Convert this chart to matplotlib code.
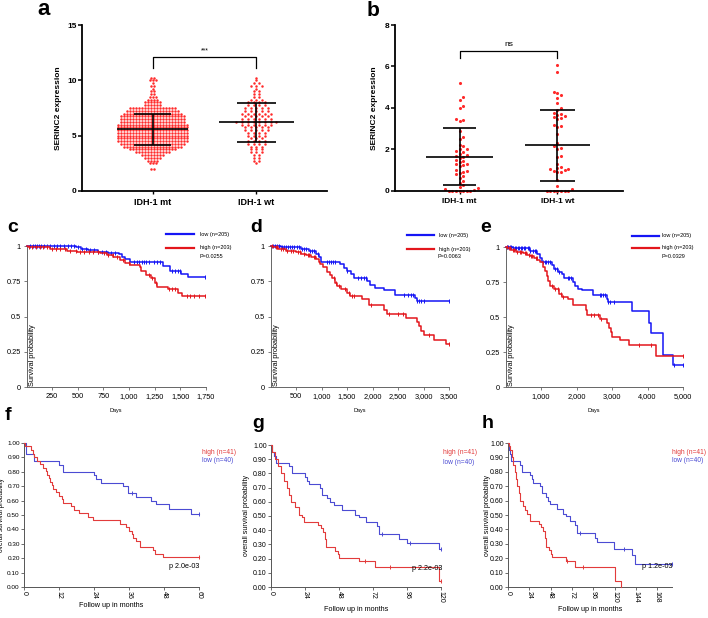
import matplotlib
matplotlib.use('Agg')
import matplotlib.pyplot as plt
import numpy as np
from matplotlib.lines import Line2D
from matplotlib.ticker import FuncFormatter

plt.rcParams['font.family'] = ['Liberation Sans', 'DejaVu Sans']

# ---------------- data: panel a (binned SERINC2 expression) ----------------
a_groups = ['IDH-1 mt', 'IDH-1 wt']
a_mt_levels = [2.0, 2.5, 2.75, 3.0, 3.25, 3.5, 3.75, 4.0, 4.25, 4.5, 4.75, 5.0, 5.25,
               5.5, 5.75, 6.0, 6.25, 6.5, 6.75, 7.0, 7.25, 7.5, 7.75, 8.0, 8.25, 8.5,
               8.75, 9.0, 9.25, 9.5, 9.75, 10.0, 10.25]
a_mt_counts = [2, 3, 4, 6, 8, 12, 16, 20, 22, 24, 24, 24, 24,
               24, 24, 24, 22, 22, 22, 20, 18, 16, 6, 6, 4, 3,
               2, 2, 1, 2, 1, 3, 2]
a_wt_levels = [2.5, 2.75, 3.0, 3.25, 3.5, 3.75, 4.0, 4.25, 4.5, 4.75, 5.0, 5.25, 5.5,
               5.75, 6.0, 6.25, 6.5, 6.75, 7.0, 7.25, 7.5, 7.75, 8.0, 8.25, 8.5, 8.75,
               9.0, 9.25, 9.5, 9.75, 10.0, 10.25]
a_wt_counts = [1, 2, 2, 2, 3, 3, 3, 4, 4, 3, 4, 4, 5,
               5, 6, 8, 6, 5, 6, 5, 5, 4, 4, 3, 2, 2,
               2, 1, 3, 2, 1, 1]
a_mean = [5.6, 6.2]
a_sd = [1.4, 1.75]

# ---------------- data: panel b ----------------
b_mt = [5.2, 4.55, 4.4, 4.1, 4.0, 3.45, 3.4, 3.35, 2.9, 2.6, 2.5, 2.2, 2.15, 2.0, 2.0,
        1.95, 1.9, 1.8, 1.75, 1.7, 1.65, 1.6, 1.5, 1.45, 1.4, 1.3, 1.3, 1.25, 1.2, 1.0,
        0.95, 0.9, 0.85, 0.8, 0.7, 0.65, 0.5, 0.4, 0.3, 0.2, 0.15, 0.1, 0.05,
        0, 0, 0, 0, 0, 0, 0]
b_wt = [6.05, 5.75, 4.75, 4.7, 4.65, 4.5, 4.25, 4.0, 3.9, 3.75, 3.7, 3.65, 3.6, 3.55,
        3.5, 3.45, 3.2, 3.15, 3.1, 2.75, 2.3, 2.15, 2.05, 2.0, 1.7, 1.65, 1.3, 1.15,
        1.1, 1.05, 1.05, 1.0, 0.95, 0.9, 0.9, 0.55, 0.25, 0.1, 0, 0, 0, 0, 0, 0, 0]
b_mean = [1.65, 2.2]
b_sd = [1.38, 1.72]

# ---------------- data: KM panels c, d, e (days) ----------------
c_low_t = [480, 530, 600, 700, 800, 900, 930, 965, 1008, 1332, 1397, 1510, 1573]
c_low_s = [0.99, 0.98, 0.97, 0.96, 0.953, 0.945, 0.925, 0.905, 0.889, 0.855, 0.822, 0.80, 0.777]
c_low_cens = [30, 60, 80, 100, 120, 140, 170, 200, 230, 270, 300, 330, 370, 400, 430, 460,
              500, 540, 580, 620, 660, 700, 740, 780, 820, 860, 1050, 1080, 1100, 1130,
              1150, 1170, 1200, 1240, 1270, 1300, 1420, 1450, 1480, 1500, 1740]
c_high_t = [15, 60, 227, 390, 488, 716, 781, 846, 912, 960, 1008, 1104, 1120, 1169, 1217,
            1250, 1273, 1380, 1477, 1520]
c_high_s = [0.995, 0.99, 0.976, 0.967, 0.955, 0.948, 0.936, 0.92, 0.90, 0.877, 0.863, 0.853,
            0.82, 0.794, 0.77, 0.735, 0.706, 0.692, 0.668, 0.647]
c_high_cens = [20, 50, 90, 130, 160, 200, 250, 290, 330, 380, 420, 480, 520, 560, 610, 650,
               700, 760, 800, 840, 880, 940, 1000, 1200, 1230, 1260, 1390, 1420, 1450,
               1570, 1600, 1640, 1680, 1740]

d_low_t = [200, 400, 600, 750, 900, 944, 990, 1370, 1435, 1500, 1580, 1630, 1892, 1957,
           2055, 2219, 2448, 2840, 2873]
d_low_s = [0.995, 0.99, 0.98, 0.965, 0.945, 0.92, 0.889, 0.87, 0.847, 0.823, 0.80, 0.776,
           0.75, 0.724, 0.705, 0.689, 0.653, 0.634, 0.613]
d_low_cens = [40, 80, 120, 160, 220, 260, 300, 340, 380, 430, 470, 520, 560, 620, 660, 700,
              780, 820, 860, 940, 1100, 1140, 1180, 1220, 1260, 1500, 1720, 1780, 1840,
              1880, 2620, 2700, 2760, 2800, 2880, 2920, 2960, 3000, 3500]
d_high_t = [50, 150, 300, 500, 600, 700, 800, 900, 944, 977, 1029, 1108, 1173, 1206, 1271,
            1304, 1382, 1500, 1565, 1794, 1925, 2232, 2284, 2657, 2873, 2918, 2958, 3003,
            3199, 3450]
d_high_s = [0.99, 0.98, 0.965, 0.955, 0.945, 0.935, 0.925, 0.91, 0.89, 0.87, 0.854, 0.818,
            0.795, 0.771, 0.736, 0.717, 0.696, 0.665, 0.646, 0.625, 0.58, 0.547, 0.517,
            0.488, 0.458, 0.43, 0.40, 0.37, 0.335, 0.307]
d_high_cens = [30, 100, 130, 200, 250, 330, 400, 450, 540, 580, 650, 730, 760, 850, 880,
               1240, 1290, 1340, 1460, 1540, 1600, 1640, 1980, 2320, 2500, 2600, 3100, 3500]

e_low_t = [200, 500, 700, 900, 972, 1019, 1300, 1375, 1470, 1582, 1657, 1911, 1958, 2052,
           2146, 2455, 2850, 2878, 3554, 4052, 4099, 4446, 4728]
e_low_s = [0.995, 0.99, 0.975, 0.95, 0.92, 0.893, 0.87, 0.846, 0.82, 0.805, 0.78, 0.75,
           0.725, 0.70, 0.69, 0.656, 0.63, 0.61, 0.543, 0.46, 0.389, 0.23, 0.154]
e_low_cens = [40, 80, 120, 160, 220, 260, 300, 340, 380, 430, 470, 520, 560, 620, 660, 700,
              780, 820, 860, 1050, 1100, 1150, 1200, 1250, 1400, 1450, 1500, 1750, 1800,
              1850, 2650, 2700, 2750, 2800, 2900, 2950, 3050, 4750, 5000]
e_high_t = [50, 150, 300, 500, 600, 700, 800, 900, 972, 1047, 1113, 1178, 1207, 1253, 1366,
            1507, 1582, 1770, 1911, 2268, 2287, 2662, 2850, 2916, 2963, 3010, 3225, 3488,
            4240]
e_high_s = [0.99, 0.98, 0.965, 0.955, 0.945, 0.935, 0.925, 0.91, 0.89, 0.86, 0.83, 0.79,
            0.76, 0.72, 0.699, 0.661, 0.645, 0.626, 0.583, 0.55, 0.514, 0.488, 0.46, 0.42,
            0.396, 0.36, 0.336, 0.30, 0.225]
e_high_cens = [30, 100, 130, 200, 250, 330, 400, 450, 540, 580, 650, 730, 760, 850, 880,
               1320, 1400, 1480, 1550, 1620, 2400, 2500, 2600, 2700, 3750, 4100, 5000]

cde_legend = ['low (n=205)', 'high (n=203)']
cde_pvals = ['P=0.0255', 'P=0.0063', 'P=0.0329']

# ---------------- data: KM panels f, g, h (months) ----------------
f_low_t = [0.6, 3.4, 12, 13.4, 24, 24.8, 26.5, 34, 35.7, 38.5, 43.7, 45.1, 49.7, 57.4]
f_low_s = [0.925, 0.875, 0.85, 0.80, 0.775, 0.75, 0.725, 0.70, 0.65, 0.625, 0.60, 0.575,
           0.54, 0.51]
f_low_cens = [37.1, 60]
f_high_t = [0.5, 2.5, 3.0, 3.5, 4.5, 5.5, 6.5, 7.5, 8.0, 8.5, 9.0, 9.5, 10, 11, 12, 13,
            13.5, 16, 17, 19, 22, 23.5, 33, 35, 36, 37, 37.5, 38.5, 39.7, 44.2, 45, 47.7]
f_high_s = [0.976, 0.951, 0.927, 0.902, 0.878, 0.854, 0.829, 0.805, 0.78, 0.756, 0.732,
            0.707, 0.683, 0.659, 0.634, 0.61, 0.585, 0.561, 0.537, 0.512, 0.488, 0.463,
            0.439, 0.415, 0.39, 0.366, 0.341, 0.317, 0.28, 0.256, 0.232, 0.207]
f_high_cens = [60]

g_low_t = [1, 2, 3.5, 12.5, 14.8, 24, 25.4, 26.6, 34.4, 36, 39.5, 41.9, 44.7, 50.1, 59.5,
           61.9, 67.3, 74.8, 76, 90.1, 96, 118.3]
g_low_s = [0.95, 0.925, 0.875, 0.85, 0.80, 0.775, 0.75, 0.725, 0.70, 0.65, 0.625, 0.60,
           0.575, 0.54, 0.51, 0.49, 0.46, 0.43, 0.375, 0.34, 0.31, 0.265]
g_low_cens = [78, 98, 120]
g_high_t = [1, 3, 5, 7, 9.5, 11, 12.5, 14, 17, 19.5, 22, 23.5, 33, 35, 36.5, 38, 39, 45,
            47, 48, 62, 73.6, 118.5]
g_high_s = [0.95, 0.90, 0.85, 0.80, 0.75, 0.70, 0.65, 0.60, 0.56, 0.51, 0.49, 0.46, 0.44,
            0.415, 0.39, 0.34, 0.28, 0.255, 0.23, 0.205, 0.18, 0.14, 0.045]
g_high_cens = [66, 84, 120]

h_low_t = [1, 2, 3.5, 13.7, 15.4, 24.7, 26.5, 28.5, 35.8, 37.9, 42.5, 45.4, 47, 54.7,
           62.2, 65.3, 69.7, 75.6, 78, 97.9, 99.7, 119, 140, 143]
h_low_s = [0.95, 0.925, 0.875, 0.85, 0.80, 0.775, 0.75, 0.725, 0.70, 0.65, 0.625, 0.60,
           0.575, 0.54, 0.51, 0.49, 0.46, 0.43, 0.375, 0.34, 0.31, 0.265, 0.22, 0.16]
h_low_cens = [81, 131, 184]
h_high_t = [1, 2.2, 4, 6, 7.9, 9, 10.5, 12, 13.5, 17.2, 19, 21, 24.7, 34.9, 37.1, 39.7,
            41.6, 42.7, 46.5, 48, 49, 65.2, 75.4, 120.4, 126.7]
h_high_s = [0.976, 0.95, 0.90, 0.85, 0.80, 0.75, 0.70, 0.65, 0.60, 0.56, 0.537, 0.51, 0.46,
            0.44, 0.415, 0.39, 0.34, 0.28, 0.255, 0.23, 0.205, 0.18, 0.14, 0.045, 0.0]
h_high_cens = [66, 84]

fgh_legend = ['high (n=41)', 'low (n=40)']
fgh_pvals = ['p 2.0e-03', 'p 2.2e-03', 'p 1.2e-03']

# ---------------- layout helpers ----------------
W, H = 708, 618
fig = plt.figure(figsize=(W / 100, H / 100), dpi=100)


def box(x0, x1, y_top, y_bot):
    return [x0 / W, 1 - y_bot / H, (x1 - x0) / W, (y_bot - y_top) / H]


def fp(x, y):
    return (x / W, 1 - y / H)


def panel_label(txt, x, y, size=14):
    fig.text(*fp(x, y), txt, fontsize=size, fontweight='bold', ha='left', va='baseline')


RED_DOT = '#ff2a2a'


def rows_swarm(pos, levels, counts, spacing):
    xs, ys = [], []
    for lv, n in zip(levels, counts):
        for i in range(n):
            xs.append(pos + (i - (n - 1) / 2) * spacing)
            ys.append(lv)
    return xs, ys


def beeswarm(vals, pos, xpx, ypx, diam):
    placed = []
    order = sorted(range(len(vals)), key=lambda i: vals[i])
    out = [0.0] * len(vals)
    step = diam * 0.5
    for i in order:
        y = vals[i] * ypx
        k = 0
        while True:
            cand = [0.0] if k == 0 else [k * step, -k * step]
            ok = None
            for c in cand:
                if all((c - px) ** 2 + (y - py) ** 2 >= diam ** 2 for px, py in placed):
                    ok = c
                    break
            if ok is not None:
                placed.append((ok, y))
                out[i] = pos + ok / xpx
                break
            k += 1
    return out


def style_dot_axes(ax, yticks, labelsize):
    for s in ['top', 'right']:
        ax.spines[s].set_visible(False)
    for s in ['left', 'bottom']:
        ax.spines[s].set_linewidth(1.3)
    ax.set_yticks(yticks)
    ax.set_xticks([0, 1])
    ax.set_xticklabels(a_groups, fontsize=labelsize, fontweight='bold')
    ax.tick_params(axis='y', length=3, width=1.1, pad=1, labelsize=6)
    ax.tick_params(axis='x', length=2, width=1.0, pad=3)
    for t in ax.get_yticklabels():
        t.set_fontweight('bold')


def mean_sd(ax, pos, m, sd, half_m, half_sd):
    ax.hlines(m, pos - half_m, pos + half_m, color='black', lw=1.2, zorder=4)
    ax.hlines([m - sd, m + sd], pos - half_sd, pos + half_sd, color='black', lw=1.2, zorder=4)
    ax.vlines(pos, m - sd, m + sd, color='black', lw=1.2, zorder=4)


# ---------------- panel a ----------------
axa = fig.add_axes(box(82, 327, 25, 191))
axa.set_xlim(-0.68, 1.68)
axa.set_ylim(0, 15)
xs, ys = rows_swarm(0, a_mt_levels, a_mt_counts, 0.029)
axa.scatter(xs, ys, s=3.2, color=RED_DOT, linewidths=0, zorder=2)
xs, ys = rows_swarm(1, a_wt_levels, a_wt_counts, 0.055)
axa.scatter(xs, ys, s=3.2, color=RED_DOT, linewidths=0, zorder=2)
mean_sd(axa, 0, a_mean[0], a_sd[0], 0.34, 0.18)
mean_sd(axa, 1, a_mean[1], a_sd[1], 0.36, 0.19)
axa.plot([0, 0, 1, 1], [11.07, 12.07, 12.07, 11.07], color='black', lw=0.9)
axa.text(0.5, 12.3, '***', ha='center', va='bottom', fontsize=5)
style_dot_axes(axa, [0, 5, 10, 15], 6.5)
axa.set_ylabel('SERINC2 expression', fontsize=6, fontweight='bold')
axa.yaxis.set_label_coords((62 - 82) / 245, 0.5)
panel_label('a', 37, 15, 16)

# ---------------- panel b ----------------
axb = fig.add_axes(box(395, 623, 25, 191))
axb.set_xlim(-0.66, 1.67)
axb.set_ylim(0, 8)
xpx = 228 / 2.33
ypx = 166 / 8
axb.scatter(beeswarm(b_mt, 0, xpx, ypx, 3.6), b_mt, s=5, color=RED_DOT, linewidths=0,
            zorder=2, clip_on=False)
axb.scatter(beeswarm(b_wt, 1, xpx, ypx, 3.6), b_wt, s=5, color=RED_DOT, linewidths=0,
            zorder=2, clip_on=False)
mean_sd(axb, 0, b_mean[0], b_sd[0], 0.34, 0.17)
mean_sd(axb, 1, b_mean[1], b_sd[1], 0.33, 0.18)
axb.plot([0, 0, 1, 1], [6.4, 6.76, 6.76, 6.4], color='black', lw=0.9)
axb.text(0.5, 6.88, 'ns', ha='center', va='bottom', fontsize=6)
style_dot_axes(axb, [0, 2, 4, 6, 8], 6)
axb.set_ylabel('SERINC2 expression', fontsize=6, fontweight='bold')
axb.yaxis.set_label_coords((378 - 395) / 228, 0.5)
panel_label('b', 367, 16, 15)


# ---------------- KM helpers ----------------
def step_value(times, survs, t):
    v = 1.0
    for ti, si in zip(times, survs):
        if ti <= t:
            v = si
    return v


def km(ax, times, survs, cens, end, color, lw, ms, mew):
    tt = [0] + list(times) + [end]
    ss = [1.0] + list(survs) + [survs[-1]]
    ax.step(tt, ss, where='post', color=color, lw=lw, clip_on=False, zorder=3)
    cv = [step_value(times, survs, c) for c in cens]
    ax.plot(cens, cv, linestyle='none', marker='|', color=color, ms=ms, mew=mew,
            clip_on=False, zorder=3)


BLUE1 = '#1515f5'
RED1 = '#e3161c'
comma = FuncFormatter(lambda v, p: f'{int(v):,}')


def style_cde(ax, xmax, xticks):
    ax.set_xlim(0, xmax)
    ax.set_ylim(0, 1.03)
    for s in ['top', 'right']:
        ax.spines[s].set_visible(False)
    for s in ['left', 'bottom']:
        ax.spines[s].set_linewidth(0.7)
        ax.spines[s].set_color('#666666')
    ax.spines['left'].set_bounds(0, 1.0)
    ax.set_xticks(xticks)
    ax.xaxis.set_major_formatter(comma)
    ax.set_yticks([0, 0.25, 0.5, 0.75, 1])
    ax.set_yticklabels(['0', '0.25', '0.5', '0.75', '1'])
    ax.tick_params(length=2.5, width=0.6, color='#666666', labelsize=5.3, pad=1.5)
    ax.text(0.012, 0.01, 'Survival probability', rotation=90, transform=ax.transAxes,
            ha='left', va='bottom', fontsize=5.3)
    ax.set_xlabel('Days', fontsize=4, labelpad=6)


def cde_legend_draw(x0, x1, xt, y_low, y_high, y_p, pval):
    fig.add_artist(Line2D([x0 / W, x1 / W], [1 - y_low / H] * 2, color=BLUE1, lw=1.6))
    fig.add_artist(Line2D([x0 / W, x1 / W], [1 - y_high / H] * 2, color=RED1, lw=1.6))
    fig.text(*fp(xt, y_low), cde_legend[0], fontsize=4, va='center', ha='left')
    fig.text(*fp(xt, y_high), cde_legend[1], fontsize=4, va='center', ha='left')
    fig.text(*fp(xt - 1, y_p), pval, fontsize=4, va='center', ha='left')


# ---------------- panel c ----------------
axc = fig.add_axes(box(26.6, 205.7, 241.8, 387))
km(axc, c_low_t, c_low_s, c_low_cens, 1740, BLUE1, 1.1, 3.5, 0.7)
km(axc, c_high_t, c_high_s, c_high_cens, 1740, RED1, 1.1, 3.5, 0.7)
style_cde(axc, 1750, [250, 500, 750, 1000, 1250, 1500, 1750])
cde_legend_draw(166, 194, 200, 234, 248, 257, cde_pvals[0])
panel_label('c', 7, 232)

# ---------------- panel d ----------------
axd = fig.add_axes(box(270.5, 449, 241.8, 387))
km(axd, d_low_t, d_low_s, d_low_cens, 3500, BLUE1, 1.1, 3.5, 0.7)
km(axd, d_high_t, d_high_s, d_high_cens, 3500, RED1, 1.1, 3.5, 0.7)
style_cde(axd, 3500, [500, 1000, 1500, 2000, 2500, 3000, 3500])
cde_legend_draw(407, 434, 439, 235, 249, 257, cde_pvals[1])
panel_label('d', 250, 232)

# ---------------- panel e ----------------
axe = fig.add_axes(box(505.5, 683, 242.8, 387))
km(axe, e_low_t, e_low_s, e_low_cens, 5000, BLUE1, 1.1, 3.5, 0.7)
km(axe, e_high_t, e_high_s, e_high_cens, 5000, RED1, 1.1, 3.5, 0.7)
style_cde(axe, 5000, [1000, 2000, 3000, 4000, 5000])
cde_legend_draw(632, 659, 662, 236, 248, 257, cde_pvals[2])
panel_label('e', 480, 232)

# ---------------- panels f, g, h ----------------
RED2 = '#e23b3b'
BLUE2 = '#4b4bd3'


def style_fgh(ax, xmax, xticks, ylab_x, x0px, wpx, ylab_size=5.0, tick_size=5.0):
    ax.set_xlim(0, xmax)
    ax.set_ylim(0, 1.0)
    for s in ['top', 'right']:
        ax.spines[s].set_visible(False)
    for s in ['left', 'bottom']:
        ax.spines[s].set_linewidth(0.7)
        ax.spines[s].set_color('#555555')
    ax.set_xticks(xticks)
    ax.set_xticklabels([str(v) for v in xticks], rotation=270)
    yt = [i / 10 for i in range(11)]
    ax.set_yticks(yt)
    ax.set_yticklabels([f'{v:.2f}' for v in yt])
    ax.tick_params(length=2, width=0.6, color='#555555', labelsize=5.0, pad=1)
    ax.tick_params(axis='y', labelsize=tick_size)
    ax.set_xlabel('Follow up in months', fontsize=5.2, labelpad=2)
    ax.set_ylabel('overall survival probability', fontsize=ylab_size)
    ax.yaxis.set_label_coords((ylab_x - x0px) / wpx, 0.5)


def fgh_text(xt, y_high, y_low, px_right, py, pval):
    fig.text(*fp(xt, y_high), fgh_legend[0], color=RED2, fontsize=4.8, va='center', ha='left')
    fig.text(*fp(xt, y_low), fgh_legend[1], color=BLUE2, fontsize=4.8, va='center', ha='left')
    fig.text(*fp(px_right, py), pval, fontsize=5.2, va='center', ha='right')


axf = fig.add_axes(box(24, 199, 443, 587))
km(axf, f_low_t, f_low_s, f_low_cens, 60, BLUE2, 0.8, 3, 0.7)
km(axf, f_high_t, f_high_s, f_high_cens, 60, RED2, 0.8, 3, 0.7)
style_fgh(axf, 60, [0, 12, 24, 36, 48, 60], 5.5, 24, 175, ylab_size=4.7, tick_size=4.6)
fgh_text(202, 452, 461, 199, 567, fgh_pvals[0])
panel_label('f', 5, 420)

axg = fig.add_axes(box(271, 441, 445, 587))
km(axg, g_low_t, g_low_s, g_low_cens, 120, BLUE2, 0.8, 3, 0.7)
km(axg, g_high_t, g_high_s, g_high_cens, 120, RED2, 0.8, 3, 0.7)
style_fgh(axg, 120, [0, 24, 48, 72, 96, 120], 250, 271, 170)
fgh_text(443, 453, 462, 442, 568, fgh_pvals[1])
panel_label('g', 252, 428)

axh = fig.add_axes(box(508, 672, 443, 587))
km(axh, h_low_t, h_low_s, h_low_cens, 184, BLUE2, 0.8, 3, 0.7)
km(axh, h_high_t, h_high_s, h_high_cens, 126.7, RED2, 0.8, 3, 0.7)
style_fgh(axh, 184.5, [0, 24, 48, 72, 96, 120, 144, 168], 491, 508, 164)
fgh_text(672, 452, 461, 672, 567, fgh_pvals[2])
panel_label('h', 482, 428)

fig.savefig('out.png', dpi=100)
